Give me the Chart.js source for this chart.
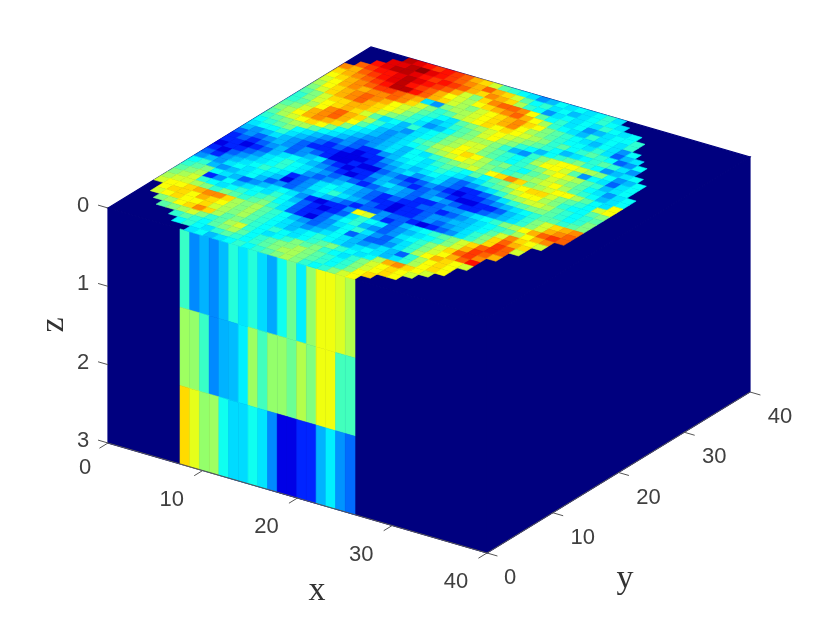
<!DOCTYPE html>
<html>
<head>
<meta charset="utf-8">
<style>
  html, body { margin: 0; padding: 0; background: #fff; }
  canvas { display: block; }
</style>
<script src="https://cdn.jsdelivr.net/npm/chart.js@4"></script>
</head>
<body>
<canvas id="chart" width="830" height="623"></canvas>
<script>
const xTicks = [0, 10, 20, 30, 40];
const yTicks = [0, 10, 20, 30, 40];
const zTicks = [0, 1, 2, 3];

// front wall at y = 0, one row per z layer (values on a 0-100 colour scale)
const frontLayer1 = [43, 26, 30, 26, 31, 41, 35, 41, 34, 29, 39, 48, 36, 52, 61, 61, 59, 55];
const frontLayer2 = [53, 52, 43, 26, 30, 31, 36, 53, 44, 52, 52, 48, 55, 50, 61, 61, 44, 44];
const frontLayer3 = [66, 60, 52, 53, 39, 34, 34, 39, 35, 26, 10, 10, 16, 16, 30, 36, 27, 23];

// top face, one letter per cell, first row is y = 39, '.' is outside the disc
const levels = { a: 10, b: 16, c: 22, d: 27, e: 31, f: 35, g: 38, h: 42, i: 46, j: 50, k: 54, l: 58,
                 m: 62, n: 66, o: 70, p: 74, q: 78, r: 82, s: 86, t: 90, u: 94, v: 98 };
const topRows = [
  '....utsrsrqonlihgfdegfgfghf.............',
  '...ttuvtsrqpoqonlighfgefghgf............',
  '..stuutsrsrqonponkhgdfgfgfhgfg..........',
  '.qrsstutsrqoljnpqqpmighfgdefggh.........',
  'poqrstusrqomlkmnopqomkhgfehfgfh.........',
  'nopqrsuusqonlkjlmnopnmjihgfegfdg........',
  'mnopqrrqpofdjkklmnopmkjihggfhfcef.......',
  'lmopoppqpnljhiklmnmnmlkjhighihgcdg......',
  'kmnopqpomlkihgfijklmlkjihgefghihfd......',
  'jlnopqonmljhgefhijlmkjhgeghijhgdefg.....',
  'ijlnnoonljihfdegijkkjhedhjlmmlkjgdeg....',
  'hjlmnonlifgehfghjklljihghkmmlidgfcfg....',
  'hikmpqonkhfedfghjkmljihghijlmlkihefg....',
  'ijlopqomigedefhiklmnmkijhgijlkjigfdfg...',
  'jkmoponjgfedefghjklmlkjihijklmkihgefg...',
  'iklmnmjgfeddefegfhijkljmnpnjklmmkigfm...',
  'hijkkigfedcdefeggfhihgigijlmnnljihglm...',
  'ghijgfedcdcbbdefgfghgfefhijlmmkjhggij...',
  'fgghfedcbcbabbdefefgfdcdefhjkllkihghi...',
  'edefedcbbbaaabcdefdefdcbbcdfhijjihghj...',
  'cdcdedcdcbaabaacdcbcdcbabbcdefghiihij...',
  'bcbcdecdefcbabbdedcbcdcbaabbcefhjlnop...',
  'bbabcefgfedcbabcefedcdedcbbcdefhjlopq...',
  'abbcdfghgfedcdcbcdedcbbcddefghjkmoqrq...',
  'bacdefghgfdcdefedcbcbbccbcdefghikmop....',
  'cbdefghgfbcdfgfedcbbabbcddeefgilpnml....',
  'dedfgfgfeacdfghfedcbabbcdcdefhjnqon.....',
  'ghedefgecdcdefedcbccdccbabcdfhjnrql.....',
  'hijgfecdefgfdbabbdmldbcefghijlnqrq......',
  'ijkbdgefgfhgecbabcfhgfcdefghjlorqo......',
  'jklhgfghghigfcbbceghedcdfghjlnqrp.......',
  'kllkjhjihijhfcbacdfghfdcefhjlmoqs.......',
  'lmmnoppnkjkihgedcdegceccdfhkmonml.......',
  '.mnnmonmkjkihgfedefgfedefechkmnm........',
  '.lmnmmnlkjkihgfefghgfefgfefhkmnm........',
  '..jkmnpnkijihghgfghijhgfgkopnml.........',
  '...ijkljhiklhgfghjijhgfhjlmnml..........',
  '.....hihgijkighijjkjihghjlmnm...........',
  '......ghgfhihghijkkjihghjmn.............',
  '........fgefghghijkjhghjlm..............'
];

// view of the box: pixels per data unit along each axis
const viewXperX = 9.475, viewXperY = 6.575;
const viewYperX = 2.75, viewYperY = -4.025, viewYperZ = 78.33;
const viewU = (x, y) => viewXperX * x + viewXperY * y;
const viewV = (x, y, z) => viewYperX * x + viewYperY * y + viewYperZ * z;

function jet(value) {
  const t = value / 100;
  const ramp = c => Math.round(255 * Math.max(0, Math.min(1, c)));
  return `rgb(${ramp(Math.min(4 * t - 1.5, 4.5 - 4 * t))},${ramp(Math.min(4 * t - 0.5, 3.5 - 4 * t))},${ramp(Math.min(4 * t + 0.5, 2.5 - 4 * t))})`;
}

const NAVY = '#00007f';
const frontStart = 7.6, frontStep = 18.47 / 18;

const topCells = [];
topRows.forEach((row, r) => {
  const j = topRows.length - 1 - r;
  [...row].forEach((c, i) => {
    if (c === '.') return;
    topCells.push({ x: viewU(i + 0.5, j + 0.5), y: viewV(i + 0.5, j + 0.5, 0),
                    corners: [[i, j, 0], [i + 1, j, 0], [i + 1, j + 1, 0], [i, j + 1, 0]], value: levels[c] });
  });
});

const frontCells = [];
[frontLayer1, frontLayer2, frontLayer3].forEach((layer, k) => {
  layer.forEach((value, c) => {
    const x0 = frontStart + c * frontStep, x1 = x0 + frontStep;
    frontCells.push({ x: viewU((x0 + x1) / 2, 0), y: viewV((x0 + x1) / 2, 0, k + 0.5),
                      corners: [[x0, 0, k], [x1, 0, k], [x1, 0, k + 1], [x0, 0, k + 1]], value: value });
  });
});

const xMax = xTicks[xTicks.length - 1], yMax = yTicks[yTicks.length - 1], zMax = zTicks[zTicks.length - 1];
const boxCells = [
  [[0, 0, 0], [xMax, 0, 0], [xMax, yMax, 0], [0, yMax, 0]],
  [[0, 0, 0], [xMax, 0, 0], [xMax, 0, zMax], [0, 0, zMax]],
  [[xMax, 0, 0], [xMax, yMax, 0], [xMax, yMax, zMax], [xMax, 0, zMax]]
].map(corners => ({ x: viewU(corners[0][0], corners[0][1]), y: viewV(corners[0][0], corners[0][1], corners[0][2]), corners: corners, value: 0 }));

const box3d = {
  id: 'box3d',
  beforeDatasetsDraw(chart) {
    const ctx = chart.ctx;
    const sx = chart.scales.x, sy = chart.scales.y;
    const px = (x, y) => sx.getPixelForValue(viewU(x, y));
    const py = (x, y, z) => sy.getPixelForValue(viewV(x, y, z));

    ctx.save();
    for (const ds of chart.data.datasets) {
      for (const cell of ds.data) {
        const colour = cell.value === 0 ? NAVY : jet(cell.value);
        ctx.beginPath();
        cell.corners.forEach((p, n) => {
          if (n === 0) ctx.moveTo(px(p[0], p[1]), py(p[0], p[1], p[2]));
          else ctx.lineTo(px(p[0], p[1]), py(p[0], p[1], p[2]));
        });
        ctx.closePath();
        ctx.fillStyle = colour;
        ctx.fill();
        // hides the hairline seams between neighbours
        ctx.strokeStyle = colour;
        ctx.lineWidth = cell.value === 0 ? 1.2 : 0.6;
        ctx.stroke();
      }
    }

    // axis lines and ticks
    ctx.strokeStyle = '#555555';
    ctx.lineWidth = 1;
    const segment = (a, b) => {
      ctx.beginPath();
      ctx.moveTo(px(a[0], a[1]), py(a[0], a[1], a[2]));
      ctx.lineTo(px(b[0], b[1]), py(b[0], b[1], b[2]));
      ctx.stroke();
    };
    segment([0, 0, zMax], [xMax, 0, zMax]);
    segment([xMax, 0, zMax], [xMax, yMax, zMax]);
    xTicks.forEach(t => segment([t, 0, zMax], [t, -1.3, zMax]));
    yTicks.forEach(t => segment([xMax, t, zMax], [xMax + 1.1, t, zMax]));
    zTicks.forEach(t => segment([0, 0, t], [-1.05, 0, t]));

    // tick labels
    ctx.fillStyle = '#404040';
    ctx.font = '22px "Liberation Sans"';
    ctx.textAlign = 'center';
    ctx.textBaseline = 'middle';
    xTicks.forEach(t => {
      const left = t === 0 ? -23 : -31;
      ctx.fillText(String(t), px(t, 0) + left, py(t, 0, zMax) + (t === 0 ? 25 : 29));
    });
    yTicks.forEach(t => {
      const right = t === 0 ? 23 : 30;
      ctx.fillText(String(t), px(xMax, t) + right, py(xMax, t, zMax) + 25);
    });
    zTicks.forEach(t => {
      ctx.fillText(String(t), px(0, 0) - 25, py(0, 0, t) - 2);
    });

    // axis titles
    ctx.fillStyle = '#333333';
    ctx.font = '34px "Liberation Serif"';
    ctx.fillText('x', 317, 591);
    ctx.fillText('y', 625, 579);
    ctx.translate(54, 325);
    ctx.rotate(-Math.PI / 2);
    ctx.fillText('z', 0, 0);
    ctx.restore();
  }
};

new Chart(document.getElementById('chart'), {
  type: 'scatter',
  data: {
    datasets: [
      { label: 'box', data: boxCells, pointRadius: 0 },
      { label: 'front', data: frontCells, pointRadius: 0 },
      { label: 'top', data: topCells, pointRadius: 0 }
    ]
  },
  options: {
    responsive: false,
    animation: false,
    layout: { padding: 0 },
    plugins: { legend: { display: false }, tooltip: { enabled: false } },
    scales: {
      x: { type: 'linear', display: false, min: -108, max: 722 },
      y: { type: 'linear', display: false, reverse: true, min: -208, max: 415 }
    }
  },
  plugins: [box3d]
});
</script>
</body>
</html>
